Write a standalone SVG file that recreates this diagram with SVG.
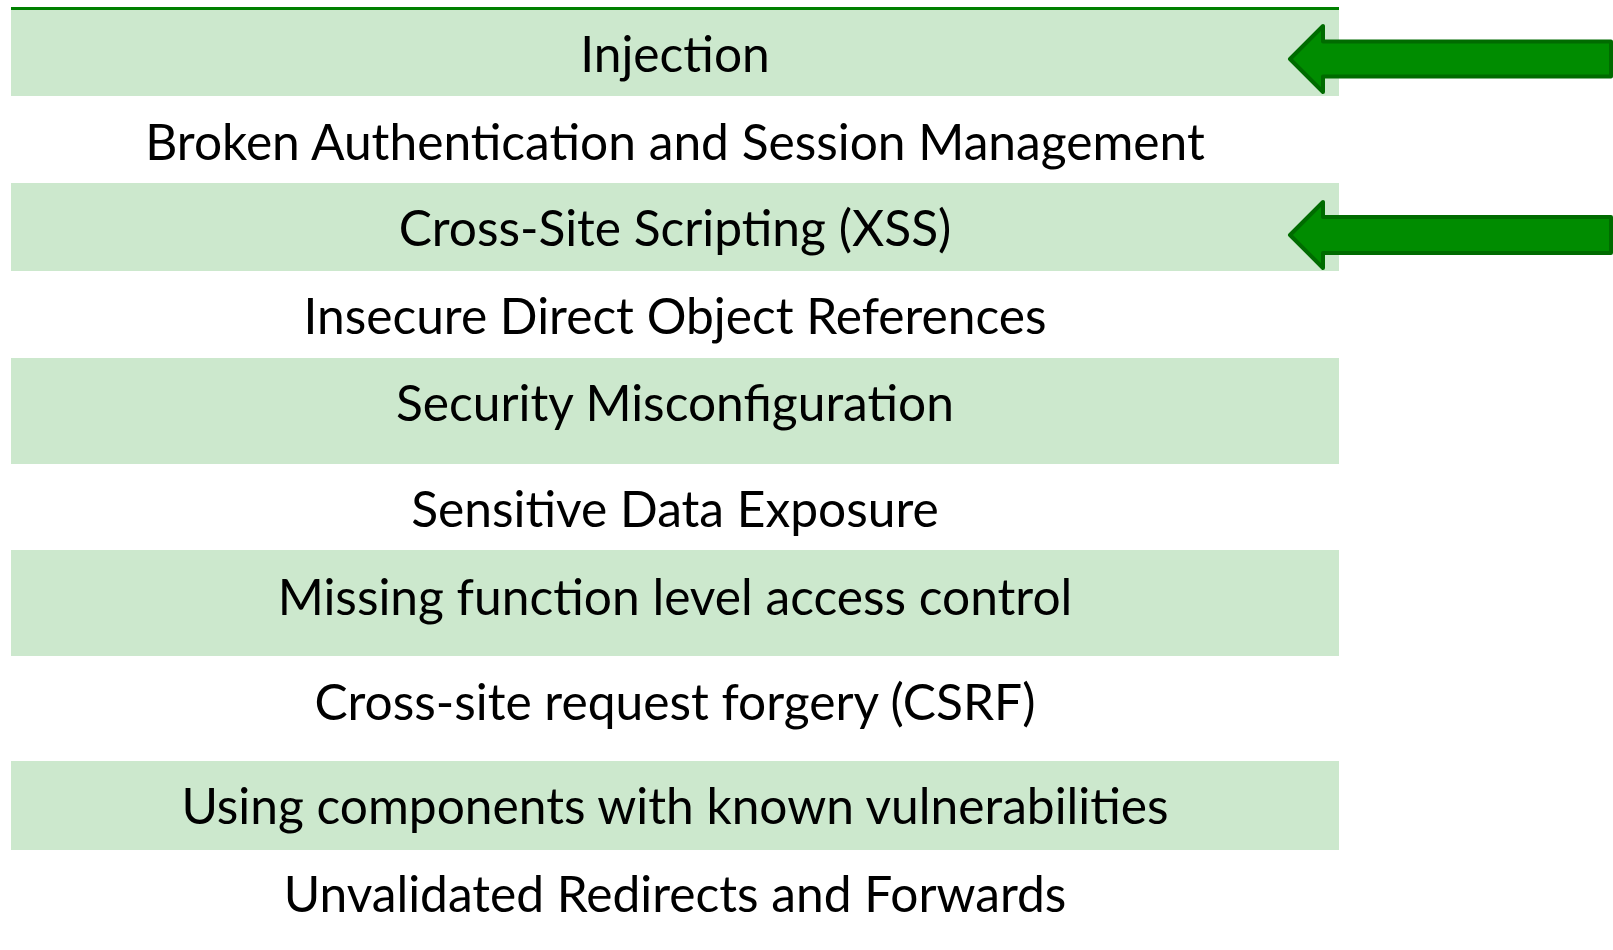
<svg xmlns="http://www.w3.org/2000/svg" width="1613" height="950" viewBox="0 0 1613 950">
<style>
.band{fill:#cce8cd}
.lbl{font-family:Lato,"Open Sans","Liberation Sans",sans-serif;font-size:49.7px;fill:#000;text-anchor:middle}
.arrow{fill:#008c00;stroke:#006b00;stroke-width:4;stroke-linejoin:round}
</style>
<rect width="1613" height="950" fill="#fff"/>
<g id="row1"><rect class="band" x="11" y="10" width="1328" height="86"/><text class="lbl" x="675" y="72">Injection</text></g>
<g id="row2"><text class="lbl" x="675" y="160">Broken Authentication and Session Management</text></g>
<g id="row3"><rect class="band" x="11" y="183" width="1328" height="88"/><text class="lbl" x="675" y="246">Cross-Site Scripting (XSS)</text></g>
<g id="row4"><text class="lbl" x="675" y="334">Insecure Direct Object References</text></g>
<g id="row5"><rect class="band" x="11" y="358" width="1328" height="106"/><text class="lbl" x="675" y="421">Security Misconfiguration</text></g>
<g id="row6"><text class="lbl" x="675" y="527">Sensitive Data Exposure</text></g>
<g id="row7"><rect class="band" x="11" y="550" width="1328" height="106"/><text class="lbl" x="675" y="615">Missing function level access control</text></g>
<g id="row8"><text class="lbl" x="675" y="720">Cross-site request forgery (CSRF)</text></g>
<g id="row9"><rect class="band" x="11" y="761" width="1328" height="89"/><text class="lbl" x="675" y="824">Using components with known vulnerabilities</text></g>
<g id="row10"><text class="lbl" x="675" y="912">Unvalidated Redirects and Forwards</text></g>
<line id="topline" x1="11" y1="8.5" x2="1339" y2="8.5" stroke="#008000" stroke-width="3"/>
<g id="connectors">
<path class="arrow" d="M1290,59 L1323,26 L1323,41.5 L1611,41.5 L1611,76.5 L1323,76.5 L1323,92 Z"/>
<path class="arrow" d="M1290,235 L1323,202 L1323,217 L1611,217 L1611,253 L1323,253 L1323,268 Z"/>
</g>
</svg>
